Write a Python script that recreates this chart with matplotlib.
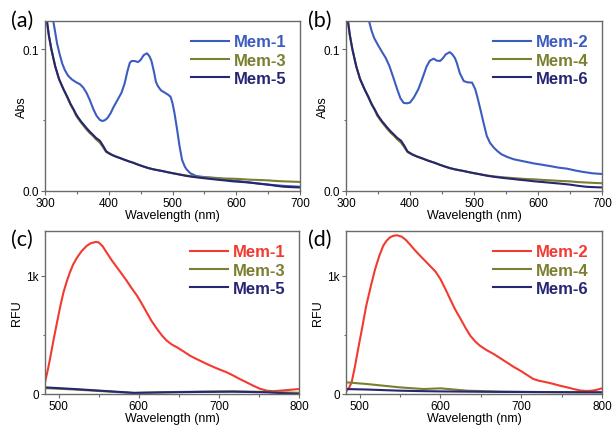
import numpy as np
import matplotlib.pyplot as plt
from matplotlib.ticker import MultipleLocator, FuncFormatter

plt.rcParams['font.family'] = ['Liberation Sans', 'DejaVu Sans']

BLUE = "#3d5cc0"
OLIVE = "#7b7f30"
NAVY = "#262672"
RED = "#f23a30"

# (a) absorbance
wl_m1 = [310, 313, 316, 319, 323, 327, 331, 336, 342, 348, 355, 360, 365, 370, 376, 381, 386,
         390, 394, 398, 403, 407, 414, 420, 425, 429, 433, 436, 441, 446, 450, 455, 460, 464,
         467, 471, 474, 477, 482, 488, 493, 497, 500, 503, 507, 511, 515, 519, 522, 528, 537,
         550, 569, 600, 625, 650, 675, 700]
abs_m1 = [0.13, 0.12, 0.112, 0.104, 0.0965, 0.09, 0.0855, 0.0815, 0.0788, 0.077, 0.0753, 0.073,
          0.0694, 0.0645, 0.0576, 0.053, 0.0502, 0.0494, 0.05, 0.0515, 0.055, 0.0588, 0.0645,
          0.0694, 0.076, 0.084, 0.0905, 0.0918, 0.0917, 0.091, 0.0925, 0.096, 0.0972, 0.095,
          0.0918, 0.084, 0.077, 0.0741, 0.071, 0.0694, 0.068, 0.0665, 0.062, 0.0553, 0.044,
          0.0318, 0.022, 0.0175, 0.0153, 0.0125, 0.0106, 0.0098, 0.0092, 0.0072, 0.0058, 0.0045,
          0.0036, 0.003]

wl_bg = [300, 303, 306, 310, 313, 316, 322, 329, 335, 340, 345, 349, 353, 357, 361, 365, 370,
         375, 380, 386, 391, 396, 403, 410, 418, 425, 431, 438, 446, 455, 462, 470, 478, 485,
         493, 501, 510, 520, 530, 542, 556, 570, 583, 595, 608, 620, 635, 650, 662, 675, 688, 700]
abs_m3 = [0.135, 0.12, 0.11, 0.1, 0.094, 0.088, 0.079, 0.0718, 0.066, 0.061, 0.057, 0.053,
          0.0505, 0.048, 0.0458, 0.0435, 0.041, 0.039, 0.0365, 0.0341, 0.031, 0.0275, 0.0258,
          0.0245, 0.0232, 0.022, 0.021, 0.02, 0.0186, 0.0172, 0.0162, 0.0153, 0.0146, 0.014,
          0.0132, 0.0125, 0.0118, 0.011, 0.0104, 0.0098, 0.0094, 0.009, 0.0088, 0.0087, 0.0084,
          0.008, 0.0078, 0.0075, 0.0071, 0.0068, 0.0066, 0.0064]
abs_m5 = [0.135, 0.12, 0.11, 0.1, 0.094, 0.088, 0.079, 0.0718, 0.0665, 0.0615, 0.0575, 0.054,
          0.0513, 0.0488, 0.0467, 0.0445, 0.042, 0.0398, 0.0375, 0.0355, 0.032, 0.028, 0.026,
          0.0245, 0.0232, 0.022, 0.021, 0.02, 0.0186, 0.0172, 0.0162, 0.0153, 0.0146, 0.014,
          0.0132, 0.0125, 0.0117, 0.0108, 0.0101, 0.0094, 0.0087, 0.008, 0.0074, 0.0068, 0.0064,
          0.006, 0.0052, 0.0045, 0.0037, 0.003, 0.0027, 0.0025]

# (b) absorbance
wl_m2 = [330, 336, 340, 344, 350, 357, 362, 368, 374, 380, 385, 390, 395, 400, 406, 413, 419,
         426, 431, 437, 442, 447, 451, 456, 462, 466, 470, 473, 478, 484, 490, 497, 502, 506,
         510, 515, 520, 525, 531, 537, 543, 552, 562, 577, 593, 607, 620, 632, 645, 658, 670,
         685, 700]
abs_m2 = [0.135, 0.12, 0.113, 0.108, 0.103, 0.0976, 0.094, 0.088, 0.08, 0.0718, 0.0655, 0.0622,
          0.0619, 0.0624, 0.066, 0.0718, 0.079, 0.088, 0.092, 0.0934, 0.092, 0.0918, 0.0935,
          0.0965, 0.098, 0.0965, 0.094, 0.0906, 0.083, 0.0776, 0.0767, 0.0765, 0.0718, 0.065,
          0.0576, 0.048, 0.0388, 0.034, 0.0306, 0.028, 0.0259, 0.024, 0.0224, 0.021, 0.0195,
          0.0185, 0.0175, 0.0165, 0.0158, 0.0145, 0.0135, 0.0125, 0.012]
abs_m4 = [0.135, 0.12, 0.11, 0.1, 0.094, 0.088, 0.079, 0.0718, 0.066, 0.061, 0.057, 0.053,
          0.0505, 0.048, 0.0458, 0.0435, 0.041, 0.039, 0.0365, 0.0341, 0.031, 0.0275, 0.0258,
          0.0245, 0.0232, 0.022, 0.021, 0.02, 0.0186, 0.0172, 0.0162, 0.0153, 0.0146, 0.014,
          0.0132, 0.0125, 0.0118, 0.011, 0.0104, 0.0098, 0.0093, 0.0088, 0.0084, 0.0082, 0.0078,
          0.0075, 0.0071, 0.0068, 0.0063, 0.006, 0.0057, 0.0055]
abs_m6 = [0.135, 0.12, 0.11, 0.1, 0.094, 0.088, 0.079, 0.0718, 0.0665, 0.0615, 0.0575, 0.054,
          0.0513, 0.0488, 0.0467, 0.0445, 0.042, 0.0398, 0.0375, 0.0355, 0.032, 0.028, 0.026,
          0.0245, 0.0232, 0.022, 0.021, 0.02, 0.0186, 0.0172, 0.0162, 0.0153, 0.0146, 0.014,
          0.0132, 0.0125, 0.0117, 0.0108, 0.0101, 0.0094, 0.0087, 0.008, 0.0074, 0.0068, 0.0063,
          0.0058, 0.0052, 0.0045, 0.0037, 0.003, 0.0027, 0.0025]

# (c) fluorescence
wl_c1 = [483, 487, 490, 494, 498, 502, 506, 510, 514, 518, 523, 529, 535, 540, 546, 550, 555,
         560, 566, 573, 579, 585, 591, 598, 604, 610, 616, 623, 629, 635, 641, 648, 656, 664,
         674, 685, 697, 710, 718, 726, 735, 743, 751, 760, 768, 776, 788, 800]
rfu_m1 = [99, 220, 324, 470, 606, 740, 859, 950, 1028, 1095, 1155, 1212, 1254, 1276, 1287, 1284,
          1250, 1197, 1135, 1070, 1015, 958, 897, 831, 762, 690, 618, 549, 495, 451, 420, 394,
          360, 324, 290, 254, 218, 183, 156, 127, 97, 70, 45, 28, 24, 28, 35, 42]
wl_c_bg = [483, 520, 552, 594, 635, 680, 718, 760, 800]
rfu_m3 = [50, 38, 25, 8, 16, 20, 22, 18, 10]
rfu_m5 = [56, 42, 28, 10, 14, 18, 20, 14, 0]

# (d) fluorescence
wl_d2 = [483, 487, 490, 494, 498, 503, 508, 514, 519, 524, 529, 533, 537, 541, 546, 552, 557,
         562, 568, 575, 581, 587, 594, 600, 606, 612, 618, 625, 631, 637, 643, 649, 657, 666,
         674, 682, 690, 699, 707, 715, 722, 728, 734, 740, 748, 757, 765, 773, 780, 786, 791,
         796, 800]
rfu_m2 = [20, 55, 99, 230, 380, 560, 746, 920, 1056, 1165, 1254, 1295, 1324, 1338, 1344, 1332,
          1305, 1268, 1220, 1169, 1127, 1085, 1035, 972, 890, 803, 718, 634, 560, 493, 445, 408,
          372, 338, 303, 268, 232, 197, 162, 127, 112, 104, 95, 85, 70, 56, 42, 30, 26, 27, 32,
          40, 48]
wl_d_bg = [483, 508, 550, 579, 600, 633, 674, 720, 760, 800]
rfu_m4 = [99, 85, 56, 42, 48, 28, 20, 17, 15, 14]
rfu_m6 = [42, 38, 28, 24, 22, 20, 18, 16, 15, 14]

fig = plt.figure(figsize=(6.13, 4.27), dpi=100)
W, H = 613, 427

def make_ax(l, r, t, b):
    return fig.add_axes([l / W, 1 - b / H, (r - l) / W, (b - t) / H])

ax_a = make_ax(45, 300, 22, 192)
ax_b = make_ax(346, 602, 22, 192)
ax_c = make_ax(45, 299, 232, 395)
ax_d = make_ax(346, 602, 232, 395)

def style(ax):
    for s in ax.spines.values():
        s.set_color("#6a6a6a")
        s.set_linewidth(1.0)
    ax.tick_params(which="major", direction="out", length=3, width=0.8, color="#6a6a6a",
                   labelsize=8.5, pad=1.5)
    ax.tick_params(which="minor", direction="out", length=1.8, width=0.8, color="#6a6a6a")

def legend(ax, colors):
    leg = ax.legend(loc="upper right", frameon=False, handlelength=2.3,
                    handletextpad=0.3, labelspacing=0.2, borderaxespad=0.4,
                    prop={"weight": "bold", "size": 12})
    for txt, c in zip(leg.get_texts(), colors):
        txt.set_color(c)

# absorbance panels
for ax, data, cols in [
    (ax_a, [(wl_m1, abs_m1, "Mem-1"), (wl_bg, abs_m3, "Mem-3"), (wl_bg, abs_m5, "Mem-5")],
     [BLUE, OLIVE, NAVY]),
    (ax_b, [(wl_m2, abs_m2, "Mem-2"), (wl_bg, abs_m4, "Mem-4"), (wl_bg, abs_m6, "Mem-6")],
     [BLUE, OLIVE, NAVY]),
]:
    for (x, y, lab), c in zip(data, cols):
        ax.plot(x, y, color=c, lw=1.5, label=lab)
    ax.set_xlim(300, 700)
    ax.set_ylim(0, 0.12)
    ax.xaxis.set_major_locator(MultipleLocator(100))
    ax.xaxis.set_minor_locator(MultipleLocator(50))
    ax.yaxis.set_major_locator(MultipleLocator(0.1))
    ax.yaxis.set_minor_locator(MultipleLocator(0.05))
    ax.yaxis.set_major_formatter(FuncFormatter(lambda v, p: "%.1f" % v))
    ax.set_xlabel("Wavelength (nm)", fontsize=9, labelpad=0)
    ax.set_ylabel("Abs", fontsize=9, labelpad=-4)
    style(ax)
    legend(ax, cols)

# fluorescence panels
for ax, data, cols in [
    (ax_c, [(wl_c1, rfu_m1, "Mem-1"), (wl_c_bg, rfu_m3, "Mem-3"), (wl_c_bg, rfu_m5, "Mem-5")],
     [RED, OLIVE, NAVY]),
    (ax_d, [(wl_d2, rfu_m2, "Mem-2"), (wl_d_bg, rfu_m4, "Mem-4"), (wl_d_bg, rfu_m6, "Mem-6")],
     [RED, OLIVE, NAVY]),
]:
    for (x, y, lab), c in zip(data, cols):
        ax.plot(x, y, color=c, lw=1.5, label=lab)
    ax.set_xlim(483, 800)
    ax.set_ylim(0, 1380)
    ax.xaxis.set_major_locator(MultipleLocator(100))
    ax.xaxis.set_minor_locator(MultipleLocator(50))
    ax.yaxis.set_major_locator(MultipleLocator(1000))
    ax.yaxis.set_minor_locator(MultipleLocator(500))
    ax.yaxis.set_major_formatter(FuncFormatter(lambda v, p: "0" if v == 0 else "%dk" % (v / 1000)))
    ax.set_xlabel("Wavelength (nm)", fontsize=9, labelpad=0)
    ax.set_ylabel("RFU", fontsize=9, labelpad=2)
    style(ax)
    legend(ax, cols)

for lab, x, y in [("(a)", 11, 21), ("(b)", 308, 21), ("(c)", 11, 240), ("(d)", 308, 240)]:
    fig.text(x / W, 1 - y / H, lab, fontsize=15.5, va="center", ha="left",
             family=["Lato", "DejaVu Sans"])

fig.savefig("out.png", dpi=100)
